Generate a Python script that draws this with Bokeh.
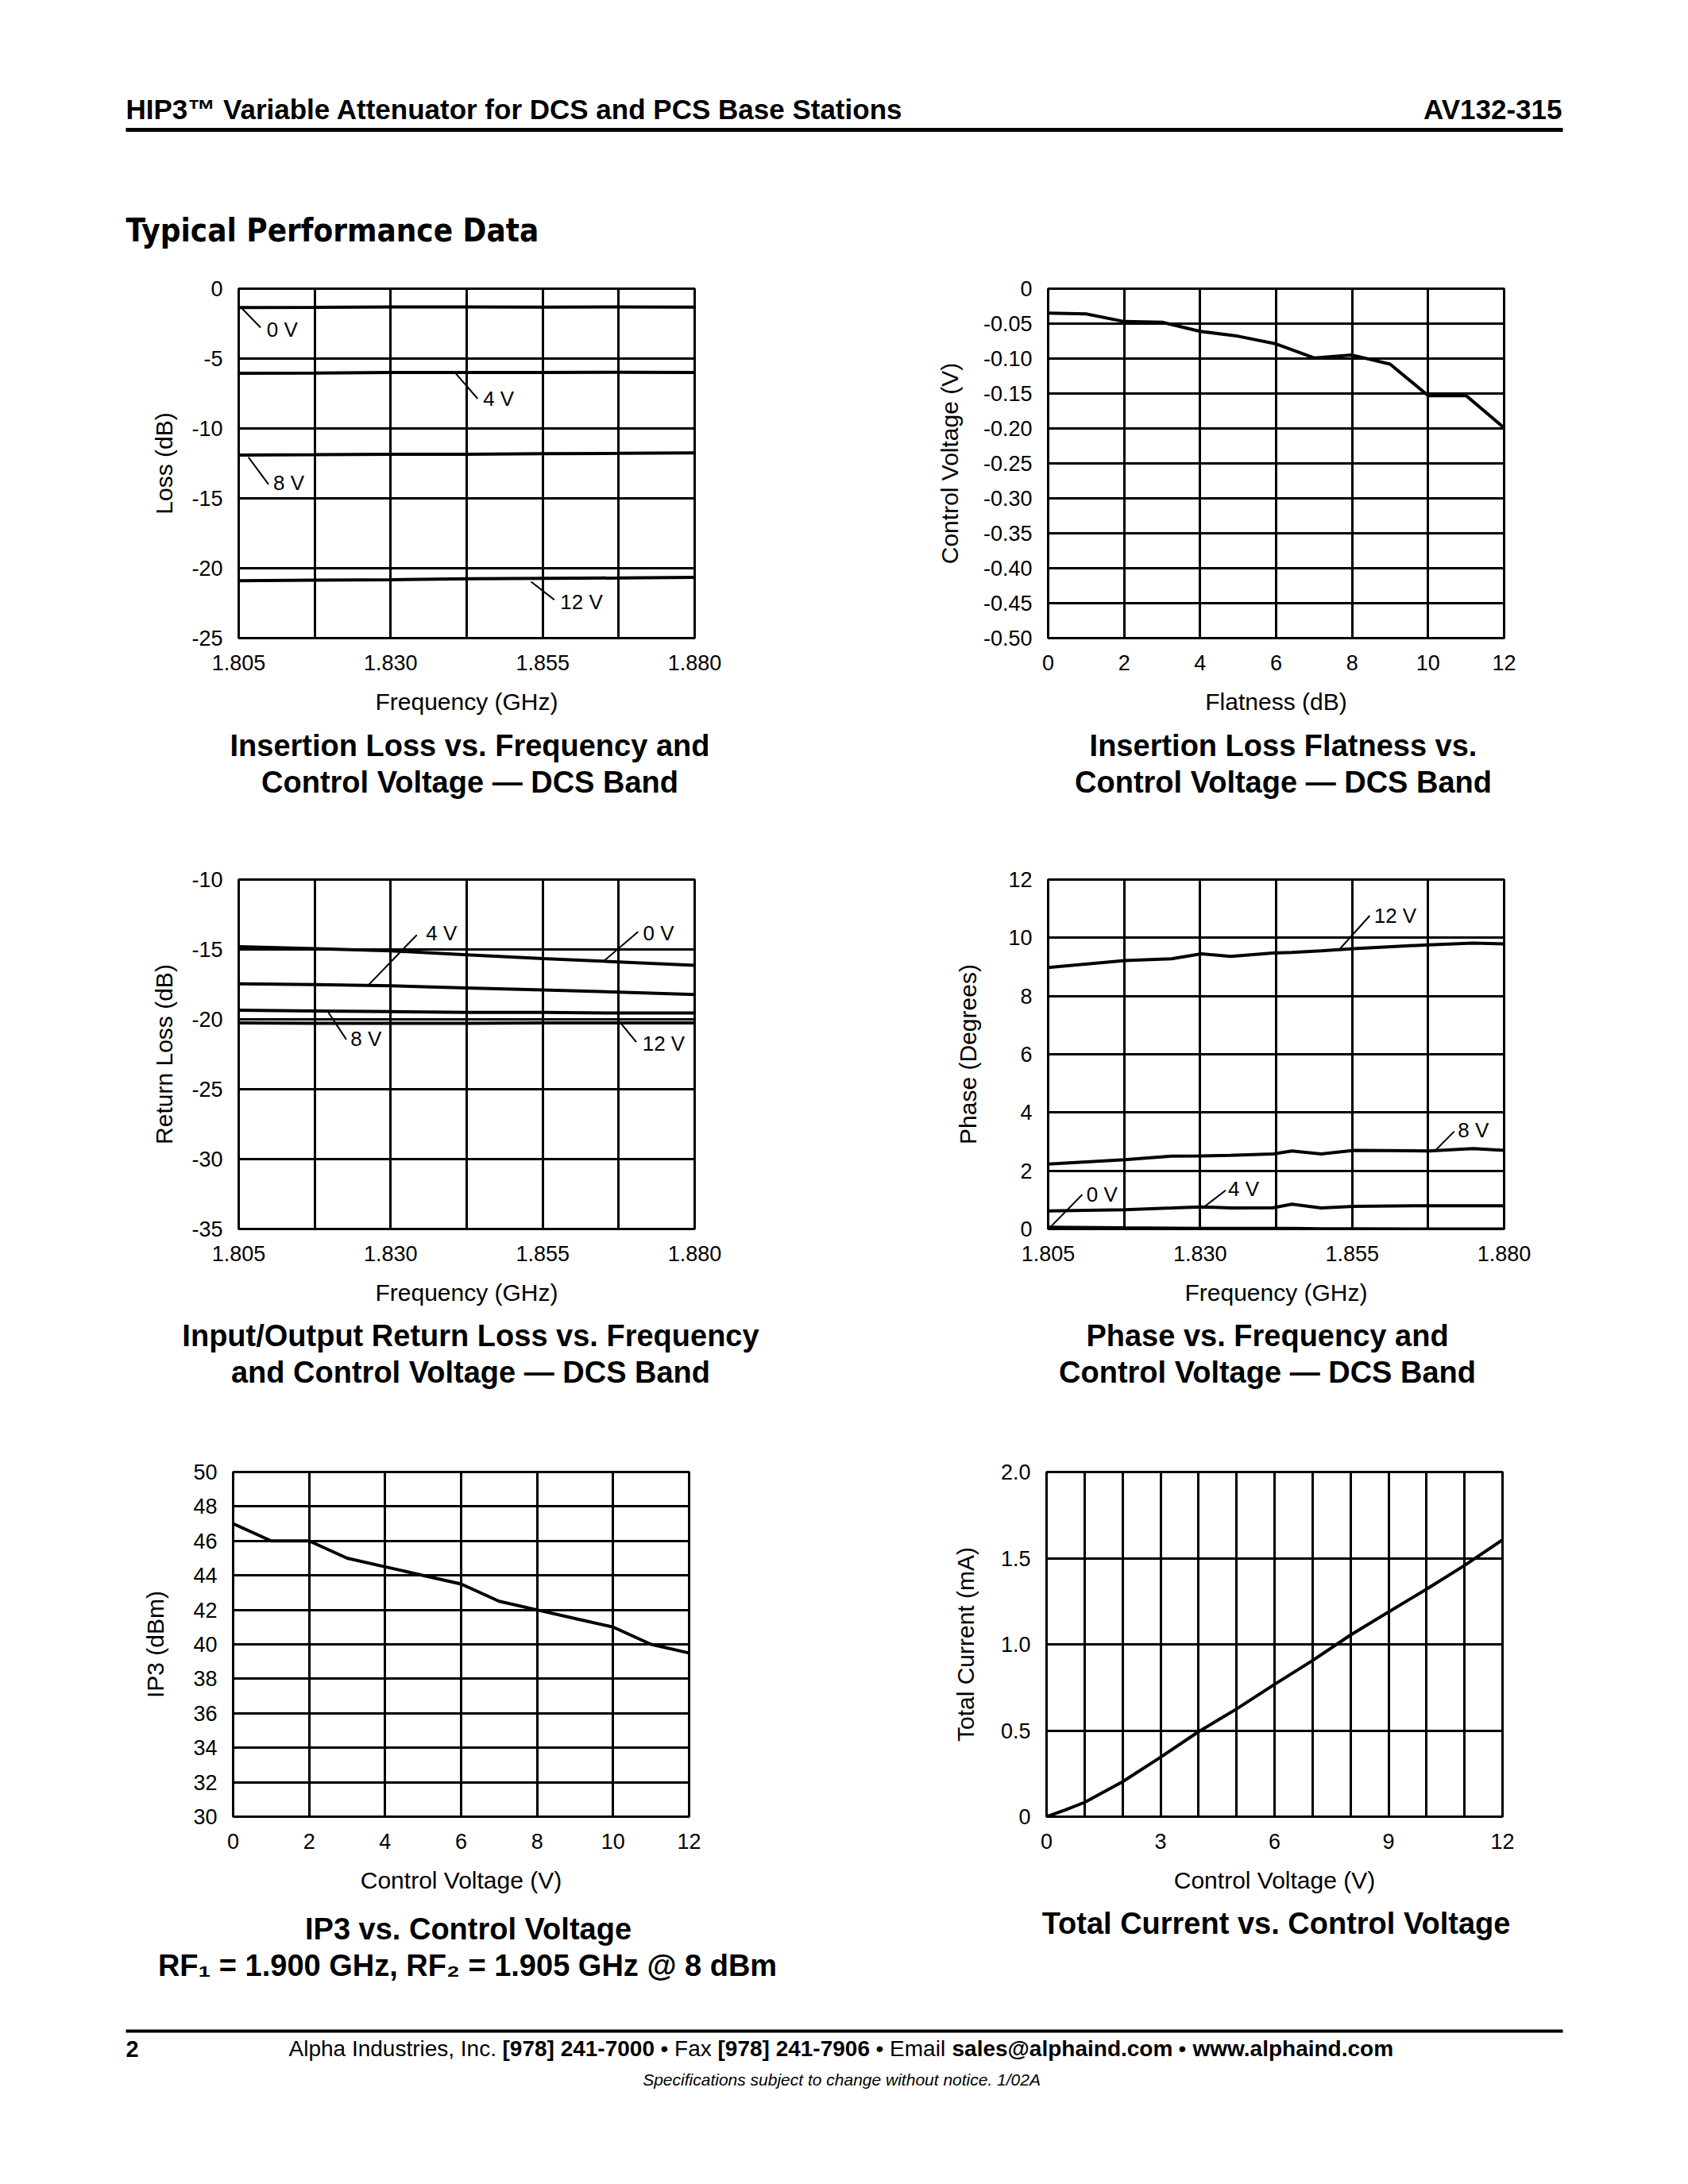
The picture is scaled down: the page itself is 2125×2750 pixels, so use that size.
from bokeh.plotting import figure
from bokeh.layouts import column, row
from bokeh.models import Range1d, FixedTicker, NumeralTickFormatter, Spacer
from bokeh.embed import file_html
from bokeh.resources import INLINE
from bokeh.core.properties import value

FONT = "Liberation Sans"
COND = "'Liberation Sans Narrow', 'DejaVu Sans Condensed', sans-serif"

# ---------------- data ----------------
# Insertion loss vs frequency (DCS band)
il_freq = [1.805, 1.8175, 1.830, 1.8425, 1.855, 1.8675, 1.880]
il_0v = [-1.35, -1.33, -1.30, -1.30, -1.32, -1.30, -1.32]
il_4v = [-6.05, -6.03, -6.00, -6.00, -6.00, -5.98, -6.00]
il_8v = [-11.90, -11.88, -11.85, -11.85, -11.80, -11.78, -11.75]
il_12v = [-20.90, -20.85, -20.82, -20.75, -20.72, -20.70, -20.65]

# Insertion loss flatness
fl_x = [0, 1, 2, 3, 4, 5, 6, 7, 8, 9, 10, 11, 12]
fl_y = [-0.035, -0.036, -0.047, -0.048, -0.061, -0.068, -0.079, -0.099, -0.095, -0.108, -0.153, -0.153, -0.199]

# Return loss vs frequency
rl_freq = [1.805, 1.8175, 1.830, 1.8425, 1.855, 1.8675, 1.880]
rl_0v = [-14.80, -14.94, -15.10, -15.38, -15.66, -15.89, -16.14]
rl_4v = [-17.46, -17.52, -17.60, -17.75, -17.90, -18.05, -18.22]
rl_8v = [-19.35, -19.40, -19.45, -19.50, -19.50, -19.55, -19.55]
rl_12v = [-20.25, -20.28, -20.28, -20.28, -20.26, -20.25, -20.25]

# Phase vs frequency
ph_freq = [1.8050, 1.8176, 1.8253, 1.8302, 1.8350, 1.8420, 1.8451, 1.8499, 1.8553, 1.8676, 1.8749, 1.8800]
ph_12v = [8.98, 9.22, 9.28, 9.45, 9.36, 9.48, 9.50, 9.55, 9.63, 9.76, 9.82, 9.79]
ph_8v = [2.23, 2.38, 2.50, 2.51, 2.53, 2.58, 2.68, 2.58, 2.70, 2.68, 2.76, 2.70]
ph_4v = [0.62, 0.66, 0.72, 0.76, 0.72, 0.73, 0.85, 0.72, 0.78, 0.80, 0.80, 0.80]
ph_0v = [0.06, 0.04, 0.03, 0.02, 0.02, 0.02, 0.02, 0.01, 0.01, 0.00, 0.00, 0.00]

# IP3 vs control voltage
ip3_v = [0, 1, 2, 3, 4, 5, 6, 7, 8, 9, 10, 11, 12]
ip3_dbm = [47.0, 46.0, 46.0, 45.0, 44.5, 44.0, 43.5, 42.5, 42.0, 41.5, 41.0, 40.0, 39.5]

# Total current vs control voltage
cur_v = [0, 0.5, 1, 2, 3, 4, 5, 6, 7, 8, 9, 10, 11, 12]
cur_ma = [0.0, 0.04, 0.083, 0.203, 0.345, 0.493, 0.625, 0.768, 0.906, 1.054, 1.188, 1.320, 1.458, 1.606]

# tick / grid values
freq_labels = [1.805, 1.830, 1.855, 1.880]
freq_grid = [1.805, 1.8175, 1.830, 1.8425, 1.855, 1.8675, 1.880]
il_ticks = [-25, -20, -15, -10, -5, 0]
fl_xticks = [0, 2, 4, 6, 8, 10, 12]
fl_yticks = [0, -0.05, -0.10, -0.15, -0.20, -0.25, -0.30, -0.35, -0.40, -0.45, -0.50]
rl_ticks = [-35, -30, -25, -20, -15, -10]
ph_ticks = [0, 2, 4, 6, 8, 10, 12]
ip3_xticks = [0, 2, 4, 6, 8, 10, 12]
ip3_yticks = [30, 32, 34, 36, 38, 40, 42, 44, 46, 48, 50]
cur_xlabels = [0, 3, 6, 9, 12]
cur_xgrid = [0, 1, 2, 3, 4, 5, 6, 7, 8, 9, 10, 11, 12]
cur_yticks = [0, 0.5, 1.0, 1.5, 2.0]

# curve annotations: label, leader start (x, y), leader end (x, y), text (x, y)
il_notes = [("0 V", 1.8054, -1.35, 1.8086, -2.78, 1.8096, -2.95),
            ("4 V", 1.8406, -6.02, 1.8443, -7.87, 1.8452, -7.85),
            ("8 V", 1.8066, -12.05, 1.8099, -14.0, 1.8107, -13.9),
            ("12 V", 1.8531, -20.97, 1.8569, -22.25, 1.8579, -22.4)]
rl_notes = [("4 V", 1.8264, -17.52, 1.8343, -13.96, 1.8358, -13.86),
            ("0 V", 1.8651, -15.81, 1.8707, -13.73, 1.8715, -13.86),
            ("8 V", 1.8196, -19.40, 1.8227, -21.44, 1.8234, -21.42),
            ("12 V", 1.8679, -20.30, 1.8704, -21.63, 1.8714, -21.76)]
ph_notes = [("12 V", 1.8529, 9.60, 1.8579, 10.76, 1.8586, 10.76),
            ("8 V", 1.8687, 2.70, 1.8718, 3.35, 1.8724, 3.39),
            ("4 V", 1.8306, 0.75, 1.8342, 1.33, 1.8346, 1.37),
            ("0 V", 1.8053, 0.05, 1.8106, 1.18, 1.8113, 1.18)]

# ---------------- helpers ----------------
FW, FH = 574, 440
TICK_PX = "27px"
TITLE_PX = "30px"
NOTE_PX = "26px"
CAP = 38


def chart(w, h, mbl, mbt, xr, yr, xlab, xgrid, ylab, ygrid, xtitle, ytitle,
          ystand, xfmt=None, yfmt=None, yover=None):
    p = figure(width=w, height=h, x_range=Range1d(*xr), y_range=Range1d(*yr),
               output_backend="svg", toolbar_location=None,
               min_border_left=mbl, min_border_top=mbt,
               min_border_right=w - mbl - FW, min_border_bottom=h - mbt - FH)
    p.background_fill_color = "white"
    p.border_fill_color = "white"
    p.outline_line_color = "black"
    p.outline_line_width = 3
    p.outline_line_alpha = 1.0
    p.xaxis.ticker = FixedTicker(ticks=xlab)
    p.yaxis.ticker = FixedTicker(ticks=ylab)
    p.xgrid.ticker = FixedTicker(ticks=xgrid)
    p.ygrid.ticker = FixedTicker(ticks=ygrid)
    for g in (p.xgrid[0], p.ygrid[0]):
        g.grid_line_color = "black"
        g.grid_line_width = 3
        g.grid_line_alpha = 1.0
    if xfmt:
        p.xaxis.formatter = NumeralTickFormatter(format=xfmt)
    if yfmt:
        p.yaxis.formatter = NumeralTickFormatter(format=yfmt)
    if yover:
        p.yaxis.major_label_overrides = yover
    for ax in (p.xaxis[0], p.yaxis[0]):
        ax.axis_line_color = None
        ax.major_tick_line_color = None
        ax.minor_tick_line_color = None
        ax.major_tick_out = 0
        ax.major_tick_in = 0
        ax.major_label_text_font = FONT
        ax.major_label_text_font_size = TICK_PX
        ax.major_label_text_color = "black"
        ax.axis_label_text_font = FONT
        ax.axis_label_text_font_size = TITLE_PX
        ax.axis_label_text_font_style = "normal"
        ax.axis_label_text_color = "black"
    p.xaxis.major_label_standoff = 21
    p.yaxis.major_label_standoff = 20
    p.xaxis.axis_label = xtitle
    p.yaxis.axis_label = ytitle
    p.xaxis.axis_label_standoff = 20
    p.yaxis.axis_label_standoff = ystand
    return p


def curve(p, x, y):
    p.line(x, y, line_color="black", line_width=4)


def notes(p, items):
    for lab, x0, y0, x1, y1, tx, ty in items:
        p.line([x0, x1], [y0, y1], line_color="black", line_width=2)
        p.text(x=[tx], y=[ty], text=[lab], text_font=value(FONT),
               text_font_size=NOTE_PX, text_align="left",
               text_baseline="middle", text_color="black")


def text_fig(w, h):
    p = figure(width=w, height=h, x_range=Range1d(0, w), y_range=Range1d(h, 0),
               x_axis_type=None, y_axis_type=None, output_backend="svg",
               toolbar_location=None, min_border=0)
    p.grid.visible = False
    p.outline_line_color = None
    p.background_fill_color = "white"
    p.border_fill_color = "white"
    return p


def put(p, x, y, s, size, style="normal", align="left", font=FONT):
    p.text(x=[x], y=[y], text=[s], text_font=value(font),
           text_font_size=f"{size}px", text_font_style=style,
           text_align=align, text_baseline="middle", text_color="black")


def rule(p, x0, x1, y, w):
    p.line([x0, x1], [y, y], line_color="black", line_width=w)


PAGE_W = 2100
LW, RW = 1082, 1018

# ---------------- header ----------------
head = text_fig(PAGE_W, 322)
put(head, 150, 129, "HIP3™ Variable Attenuator for DCS and PCS Base Stations", 35, "bold")
put(head, 1958, 129, "AV132-315", 35, "bold", align="right")
rule(head, 150, 1959, 155, 5)
put(head, 150, 281, "Typical Performance Data", 40, "bold", font=COND)

# ---------------- row 1 ----------------
c1 = chart(LW, 580, 292, 33, (1.805, 1.880), (-25, 0), freq_labels, freq_grid,
           il_ticks, il_ticks, "Frequency (GHz)", "Loss (dB)", 15,
           xfmt="0.000", yfmt="0")
curve(c1, il_freq, il_0v)
curve(c1, il_freq, il_4v)
curve(c1, il_freq, il_8v)
curve(c1, il_freq, il_12v)
notes(c1, il_notes)

c2 = chart(RW, 580, 229, 33, (0, 12), (-0.5, 0), fl_xticks, fl_xticks,
           fl_yticks, fl_yticks, "Flatness (dB)", "Control Voltage (V)", 23,
           yfmt="0.00", yover={0: "0"})
curve(c2, fl_x, fl_y)

cap1 = text_fig(PAGE_W, 120)
put(cap1, 583, 28, "Insertion Loss vs. Frequency and", CAP, "bold", "center")
put(cap1, 583, 74, "Control Voltage — DCS Band", CAP, "bold", "center")
put(cap1, 1607, 28, "Insertion Loss Flatness vs.", CAP, "bold", "center")
put(cap1, 1607, 74, "Control Voltage — DCS Band", CAP, "bold", "center")

# ---------------- row 2 ----------------
c3 = chart(LW, 620, 292, 77, (1.805, 1.880), (-35, -10), freq_labels, freq_grid,
           rl_ticks, rl_ticks, "Frequency (GHz)", "Return Loss (dB)", 15,
           xfmt="0.000", yfmt="0")
curve(c3, rl_freq, rl_0v)
curve(c3, rl_freq, rl_4v)
curve(c3, rl_freq, rl_8v)
curve(c3, rl_freq, rl_12v)
notes(c3, rl_notes)

c4 = chart(RW, 620, 229, 77, (1.805, 1.880), (0, 12), freq_labels, freq_grid,
           ph_ticks, ph_ticks, "Frequency (GHz)", "Phase (Degrees)", 31, xfmt="0.000")
curve(c4, ph_freq, ph_12v)
curve(c4, ph_freq, ph_8v)
curve(c4, ph_freq, ph_4v)
curve(c4, ph_freq, ph_0v)
notes(c4, ph_notes)

cap2 = text_fig(PAGE_W, 120)
put(cap2, 584, 31, "Input/Output Return Loss vs. Frequency", CAP, "bold", "center")
put(cap2, 584, 77, "and Control Voltage — DCS Band", CAP, "bold", "center")
put(cap2, 1587, 31, "Phase vs. Frequency and", CAP, "bold", "center")
put(cap2, 1587, 77, "Control Voltage — DCS Band", CAP, "bold", "center")

# ---------------- row 3 ----------------
c5 = chart(LW, 630, 285, 83, (0, 12), (30, 50), ip3_xticks, ip3_xticks,
           ip3_yticks, ip3_yticks, "Control Voltage (V)", "IP3 (dBm)", 28)
curve(c5, ip3_v, ip3_dbm)

c6 = chart(RW, 630, 227, 77, (0, 12), (0, 2), cur_xlabels, cur_xgrid,
           cur_yticks, cur_yticks, "Control Voltage (V)", "Total Current (mA)", 25,
           yfmt="0.0", yover={0: "0"})
curve(c6, cur_v, cur_ma)

# ---------------- captions + footer ----------------
foot = text_fig(PAGE_W, 334)
put(foot, 581, 28, "IP3 vs. Control Voltage", CAP, "bold", "center")
put(foot, 580, 74, "RF₁ = 1.900 GHz, RF₂ = 1.905 GHz @ 8 dBm", CAP, "bold", "center")
put(foot, 1598, 21, "Total Current vs. Control Voltage", CAP, "bold", "center")
rule(foot, 150, 1959, 157, 4)
put(foot, 150, 179, "2", 29, "bold")
put(foot, 355, 179, "Alpha Industries, Inc.", 28)
put(foot, 624, 179, "[978] 241-7000", 28, "bold")
put(foot, 823, 179, "• Fax", 28)
put(foot, 895, 179, "[978] 241-7906", 28, "bold")
put(foot, 1094, 179, "• Email", 28)
put(foot, 1190, 179, "sales@alphaind.com", 28, "bold")
put(foot, 1475, 179, "•", 28)
put(foot, 1493, 179, "www.alphaind.com", 28, "bold")
put(foot, 1054, 218, "Specifications subject to change without notice.  1/02A", 21, "italic", "center")

page = row(Spacer(width=8, height=10),
           column(Spacer(width=10, height=8), head, row(c1, c2), cap1,
                  row(c3, c4), cap2, row(c5, c6), foot))

open("out.html", "w").write(file_html(page, INLINE))
